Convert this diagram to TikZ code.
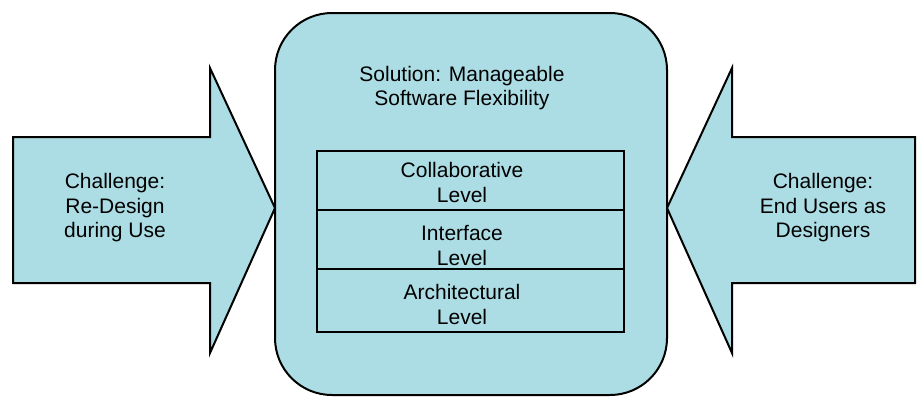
\documentclass[tikz,border=0pt]{standalone}
\usepackage{fontspec}
\setmainfont{Liberation Sans}
\definecolor{boxblue}{RGB}{172,221,228}
\begin{document}
\begin{tikzpicture}[x=1pt,y=-1pt,
  shapefill/.style={draw=black,fill=boxblue,line width=2pt,line join=miter},
  lbl/.style={align=center,font=\fontsize{21}{24.5}\selectfont,inner sep=0pt},
  levelbox/.style={draw=black,line width=2.5pt,minimum width=307pt,inner sep=0pt}]
\useasboundingbox (0,0) rectangle (917,397);
% left arrow
\draw[shapefill] (13,137) -- (210,137) -- (210,68) -- (275,208) -- (210,353) -- (210,283) -- (13,283) -- cycle;
% right arrow
\draw[shapefill] (915,137) -- (732,137) -- (732,68) -- (667,208) -- (732,353) -- (732,283) -- (915,283) -- cycle;
% central rounded box
\node[shapefill,rounded corners=57pt,minimum width=392pt,minimum height=382pt,inner sep=0pt] (sol) at (471,204) {};
\node[lbl] (soltxt) at (462,88) {Solution: Manageable\\Software Flexibility};
% level boxes
\node[levelbox,minimum height=59pt] (collab) at (470.5,180.5) {};
\node[levelbox,minimum height=59pt] (iface) at (470.5,239.5) {};
\node[levelbox,minimum height=63pt] (arch) at (470.5,300.5) {};
\node[lbl] (collabtxt) at (462,182.5) {Collaborative\\Level};
\node[lbl] (ifacetxt) at (462,245.5) {Interface\\Level};
\node[lbl] (archtxt) at (462,304.5) {Architectural\\Level};
% arrow labels
\node[lbl] (lefttxt) at (115,208) {Challenge:\\Re-Design\\during Use};
\node[lbl] (righttxt) at (823,208) {Challenge:\\End Users as\\Designers};
\end{tikzpicture}
\end{document}
